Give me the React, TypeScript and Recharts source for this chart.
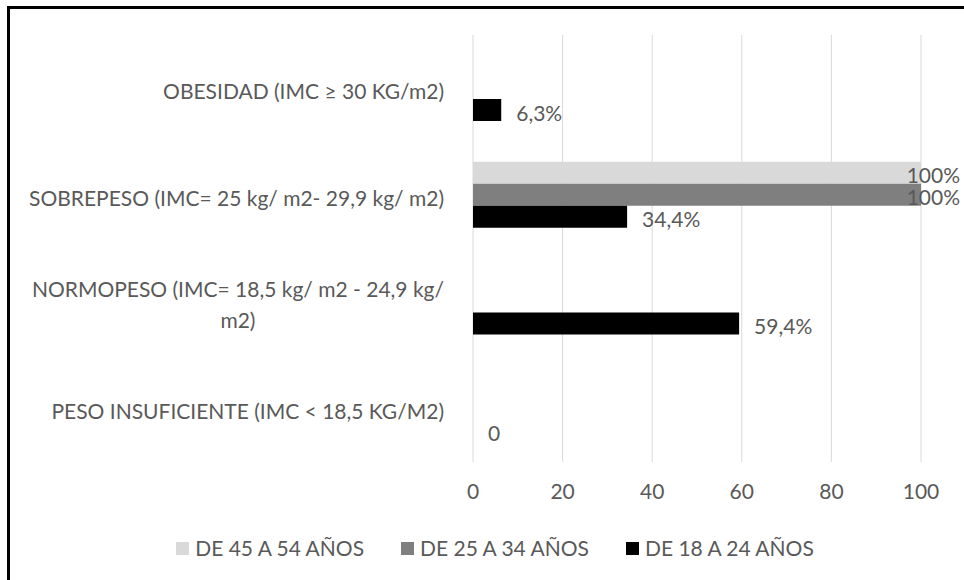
import React from 'react';
import { BarChart, Bar, XAxis, YAxis, CartesianGrid, Legend, LabelList } from 'recharts';

// Categories (top to bottom) and age-group series, in percent
const categories = [
  'OBESIDAD (IMC ≥ 30 KG/m2)',
  'SOBREPESO (IMC= 25 kg/ m2- 29,9 kg/ m2)',
  'NORMOPESO (IMC= 18,5 kg/ m2 - 24,9 kg/ m2)',
  'PESO INSUFICIENTE (IMC < 18,5 KG/M2)',
];
const seriesNames = ['DE 45 A 54 AÑOS', 'DE 25 A 34 AÑOS', 'DE 18 A 24 AÑOS'];
const age45to54: (number | null)[] = [null, 100, null, null];
const age25to34: (number | null)[] = [null, 100, null, null];
const age18to24: (number | null)[] = [6.3, 34.4, 59.4, 0];
const xTicks = [0, 20, 40, 60, 80, 100];

const colors = ['#d9d9d9', '#7f7f7f', '#000000'];
const TEXT = '#595959';
const FONT = 'Lato, "Noto Sans", sans-serif';
const FS = 21;
const W = 964;
const H = 580;

const data = categories.map((name, i) => ({
  name,
  s45: age45to54[i],
  s25: age25to34[i],
  s18: age18to24[i],
}));

let ctx: CanvasRenderingContext2D | null = null;
function measure(s: string): number {
  if (!ctx) ctx = document.createElement('canvas').getContext('2d');
  if (!ctx) return s.length * FS * 0.5;
  ctx.font = `${FS}px Lato`;
  return ctx.measureText(s).width;
}

function wrap(text: string, maxW: number): string[] {
  const words = text.split(' ');
  const lines: string[] = [];
  let cur = '';
  for (const w of words) {
    const next = cur ? cur + ' ' + w : w;
    if (cur && measure(next) > maxW) {
      lines.push(cur);
      cur = w;
    } else {
      cur = next;
    }
  }
  if (cur) lines.push(cur);
  return lines;
}

// Right-aligned block of centred lines, like a wrapped category label
const CategoryTick = (props: any) => {
  const { x, y, payload } = props;
  const lines = wrap(String(payload.value), 430);
  const blockW = Math.max(...lines.map(measure));
  const cx = x - blockW / 2;
  const lh = 31;
  const y0 = y - ((lines.length - 1) * lh) / 2 + 2;
  return (
    <g>
      {lines.map((l, i) => (
        <text
          key={i}
          x={cx}
          y={y0 + i * lh}
          textAnchor="middle"
          dominantBaseline="central"
          fill={TEXT}
          fontSize={FS}
          fontFamily={FONT}
        >
          {l}
        </text>
      ))}
    </g>
  );
};

const fmt = (v: number) => (v === 0 ? '0' : `${String(v).replace('.', ',')}%`);

// Value label just past the bar end, pulled back inside when it would run off the chart
const ValueLabel = (props: any) => {
  const { x, y, width, height, value } = props;
  if (value === null || value === undefined) return null;
  const txt = fmt(Number(value));
  const tw = measure(txt);
  const end = Number(x) + (Number(width) < 0.5 ? 0 : Number(width));
  let tx = end + 15;
  if (tx + tw > W - 4) tx = W - 4 - tw;
  return (
    <text
      x={tx}
      y={Number(y) + Number(height) / 2 + 2}
      dominantBaseline="central"
      fill={TEXT}
      fontSize={FS}
      fontFamily={FONT}
    >
      {txt}
    </text>
  );
};

const LegendContent = () => (
  <div
    style={{
      display: 'flex',
      justifyContent: 'center',
      gap: 37,
      height: 26,
      lineHeight: '26px',
      fontFamily: FONT,
      fontSize: FS,
      color: TEXT,
      paddingLeft: 69,
    }}
  >
    {seriesNames.map((n, i) => (
      <div key={n} style={{ display: 'flex', alignItems: 'center' }}>
        <span style={{ display: 'inline-block', width: 13, height: 13, background: colors[i], marginRight: 6 }} />
        <span>{n}</span>
      </div>
    ))}
  </div>
);

export default function App() {
  return (
    <div style={{ position: 'absolute', left: 0, top: 0, width: W, height: H, background: '#fff', overflow: 'hidden' }}>
      <div
        style={{
          position: 'absolute',
          left: 7,
          top: 6,
          width: W,
          height: H,
          borderLeft: '3px solid #000',
          borderTop: '3px solid #000',
        }}
      />
      <BarChart
        width={W}
        height={H}
        data={data}
        layout="vertical"
        margin={{ top: 35, right: 43, left: 0, bottom: 19 }}
        barGap={0}
        barSize={22}
      >
        <CartesianGrid horizontal={false} stroke="#d9d9d9" strokeWidth={1} />
        <XAxis
          type="number"
          domain={[0, 100]}
          ticks={xTicks}
          axisLine={false}
          tickLine={false}
          tickSize={0}
          tickMargin={22}
          height={73}
          tick={{ fill: TEXT, fontSize: FS, fontFamily: FONT }}
        />
        <YAxis
          type="category"
          dataKey="name"
          width={473}
          axisLine={false}
          tickLine={false}
          tickSize={0}
          tickMargin={29}
          tick={<CategoryTick />}
        />
        <Legend verticalAlign="bottom" content={<LegendContent />} />
        <Bar dataKey="s45" name={seriesNames[0]} fill={colors[0]} isAnimationActive={false}>
          <LabelList dataKey="s45" content={<ValueLabel />} />
        </Bar>
        <Bar dataKey="s25" name={seriesNames[1]} fill={colors[1]} isAnimationActive={false}>
          <LabelList dataKey="s25" content={<ValueLabel />} />
        </Bar>
        <Bar dataKey="s18" name={seriesNames[2]} fill={colors[2]} minPointSize={0.01} isAnimationActive={false}>
          <LabelList dataKey="s18" content={<ValueLabel />} />
        </Bar>
      </BarChart>
    </div>
  );
}
